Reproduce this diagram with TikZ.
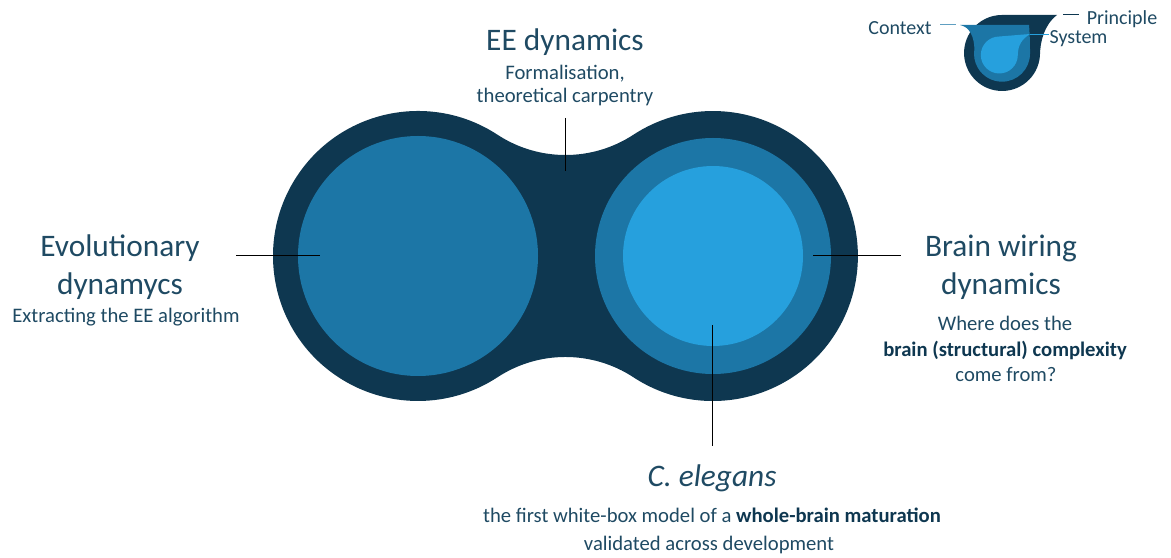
\documentclass[tikz,border=0pt]{standalone}
\usepackage{fontspec}
\setmainfont{Carlito}
\definecolor{deep}{HTML}{0E3750}
\definecolor{mid}{HTML}{1C76A6}
\definecolor{sky}{HTML}{26A0DD}
\definecolor{ink}{HTML}{1F4A63}
\begin{document}
\begin{tikzpicture}[x=0.75pt,y=0.75pt,
    title/.style={text=ink,font=\fontsize{23.5}{28}\selectfont,anchor=base,inner sep=0pt},
    sub/.style={text=ink,font=\fontsize{15.5}{19}\selectfont,anchor=base,inner sep=0pt},
    tag/.style={text=ink,font=\fontsize{15}{18}\selectfont,anchor=base,inner sep=0pt},
    pin/.style={line width=0.75pt}]
  \useasboundingbox (0,0) rectangle (1171,557);
  % the two bubbles and the neck between them
  \coordinate (lc) at (418,301);
  \coordinate (rc) at (713,301);
  \fill[deep] (lc) ++(56.76:145) arc[start angle=56.76,end angle=303.24,radius=145]
    arc[start angle=123.24,end angle=56.76,radius=124]
    arc[start angle=-123.24,end angle=123.24,radius=145]
    arc[start angle=-56.76,end angle=-123.24,radius=124] -- cycle;
  \fill[mid] (lc) circle[radius=120];
  \fill[mid] (rc) circle[radius=118];
  \fill[sky] (rc) circle[radius=90];

  % labels
  \node[title] (ee) at (565,506) {EE dynamics};
  \node[sub] (ee1) at (565,477) {Formalisation,};
  \node[sub] (ee2) at (565,454) {theoretical carpentry};

  \node[title] (evo) at (120,300) {Evolutionary};
  \node[title] (evo1) at (120,262) {dynamycs};
  \node[sub] (evo2) at (126,234) {Extracting the EE algorithm};

  \node[title] (bw) at (1001,300) {Brain wiring};
  \node[title] (bw1) at (1001,262) {dynamics};
  \node[sub] (bw2) at (1005,226) {Where does the};
  \node[sub] (bw3) at (1005,200) {\bfseries\color{deep}brain (structural) complexity};
  \node[sub] (bw4) at (1006,175) {come from?};

  \node[title] (ce) at (712,70) {\itshape C. elegans};
  \node[sub] (ce1) at (712,34) {the first white-box model of a {\bfseries\color{deep}whole-brain maturation}};
  \node[sub] (ce2) at (709,7) {validated across development};

  % pointers
  \coordinate (pl1) at (236,301); \coordinate (pl2) at (320,301);
  \coordinate (pt1) at (565,439); \coordinate (pt2) at (565,386);
  \coordinate (pr1) at (813,301); \coordinate (pr2) at (901,301);
  \coordinate (pb1) at (712,232); \coordinate (pb2) at (712,111);
  \draw[pin] (pl1) -- (pl2);
  \draw[pin] (pt1) -- (pt2);
  \draw[pin] (pr1) -- (pr2);
  \draw[pin] (pb1) -- (pb2);

  % legend drop
  \coordinate (dc) at (1002,504);
  \fill[deep] (1002,542) -- (1057,542) .. controls (1044,532) and (1040,515) .. (1039.9,500.7)
    arc[start angle=-5,end angle=-270,radius=38] -- cycle;
  \coordinate (mc) at (1002,503.3);
  \fill[mid] (960,532) -- (1029,532) .. controls (1030,520) and (1030,510) .. (1030,503.3)
    arc[start angle=0,end angle=-190,radius=28] .. controls (974,520) and (970,530) .. (960,532) -- cycle;
  \coordinate (sc) at (999.3,502);
  \fill[sky] (999.3,520.5) -- (1030,523) .. controls (1022,518) and (1018,512) .. (1017.8,502)
    arc[start angle=0,end angle=-270,radius=18.5] -- cycle;

  \node[tag] (ctx) at (900,522) {Context};
  \node[tag] (prc) at (1122,532) {Principle};
  \node[tag] (sys) at (1078.5,513.7) {System};
  \coordinate (lg1) at (940,532); \coordinate (lg2) at (956,532);
  \coordinate (lg3) at (1063,542); \coordinate (lg4) at (1079,542);
  \coordinate (lg5) at (1030,522.7); \coordinate (lg6) at (1049,522.7);
  \draw[pin,mid!70!white] (lg1) -- (lg2);
  \draw[pin,deep] (lg3) -- (lg4);
  \draw[pin,sky] (lg5) -- (lg6);
\end{tikzpicture}
\end{document}
